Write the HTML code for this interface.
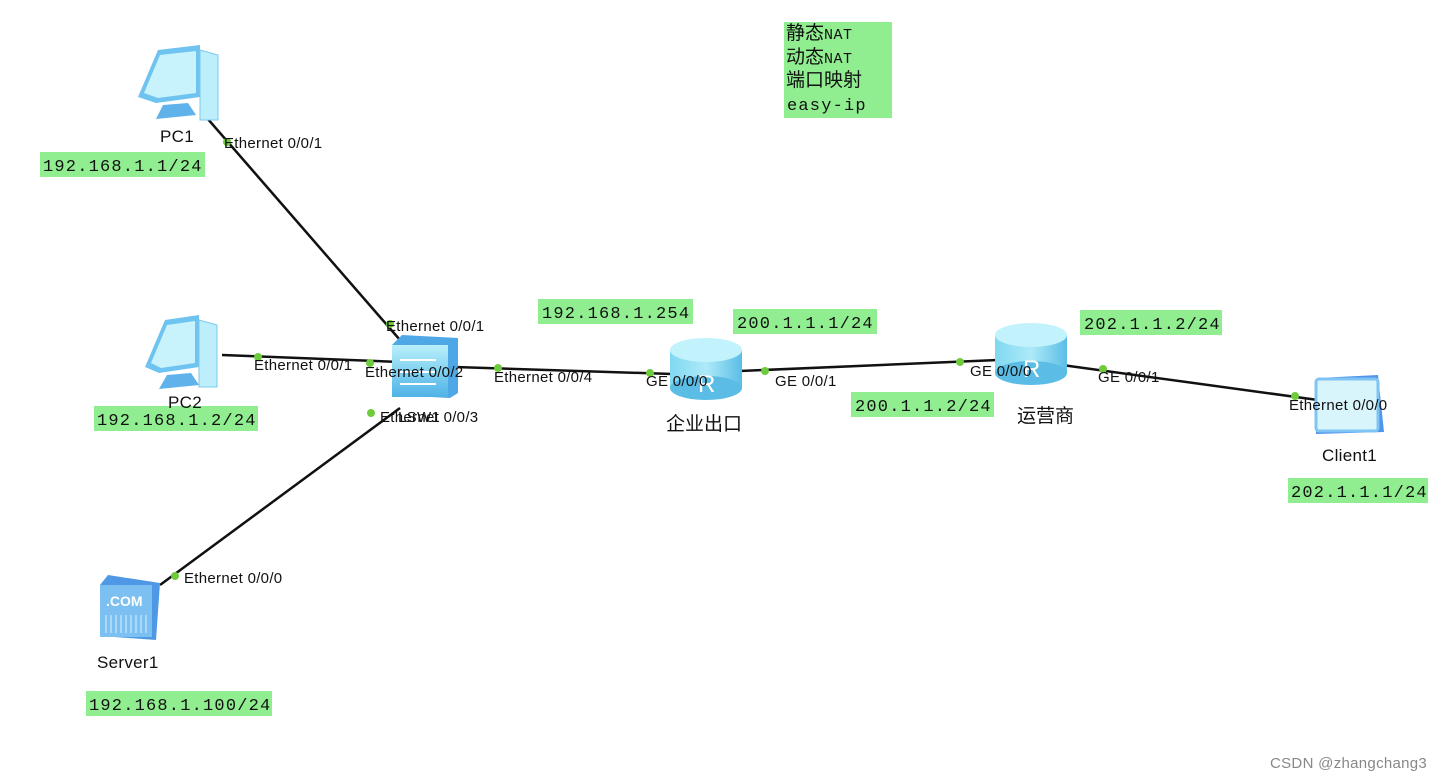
<!DOCTYPE html>
<html><head><meta charset="utf-8"><style>
html,body{margin:0;padding:0;background:#fff;}
svg{display:block}
.e{font-family:"Liberation Sans",sans-serif;font-size:15px;letter-spacing:0.3px;fill:#111;}
.m{font-family:"Liberation Mono","DejaVu Sans Mono",monospace;font-size:17px;letter-spacing:1.2px;fill:#111;}
.c{font-family:"Liberation Sans","Noto Sans CJK SC",sans-serif;font-size:19px;fill:#111;}
</style></head><body>
<svg width="1444" height="781" viewBox="0 0 1444 781" xmlns="http://www.w3.org/2000/svg">
<defs>
<linearGradient id="bl" x1="0" y1="0" x2="0" y2="1"><stop offset="0" stop-color="#b8f0fb"/><stop offset="1" stop-color="#4fb3e6"/></linearGradient>
<linearGradient id="rt" x1="0" y1="0" x2="1" y2="0"><stop offset="0" stop-color="#7fd8f2"/><stop offset="0.5" stop-color="#aeeaf8"/><stop offset="1" stop-color="#5bbde6"/></linearGradient>
</defs>
<g stroke="#111" stroke-width="2.5" fill="none">
<line x1="207" y1="118" x2="400" y2="340"/>
<line x1="222" y1="355" x2="400" y2="362"/>
<line x1="455" y1="367" x2="672" y2="374"/>
<line x1="740" y1="371" x2="998" y2="360"/>
<line x1="1062" y1="365" x2="1318" y2="400"/>
<line x1="160" y1="585" x2="400" y2="408"/>
</g>
<g fill="#90ee90">
<rect x="784" y="22" width="108" height="96"/>
<rect x="40" y="152" width="165" height="25"/>
<rect x="94" y="406" width="164" height="25"/>
<rect x="86" y="691" width="186" height="25"/>
<rect x="538" y="299" width="155" height="25"/>
<rect x="733" y="309" width="144" height="25"/>
<rect x="851" y="392" width="143" height="25"/>
<rect x="1080" y="310" width="142" height="25"/>
<rect x="1288" y="478" width="140" height="25"/>
</g>
<g transform="translate(138,45)">
<polygon points="20,5 62,0 62,52 18,58 0,52" fill="#6fc3f0"/>
<polygon points="22,10 58,6 58,48 20,53 6,48" fill="#c8f3fc"/>
<polygon points="62,5 80,10 80,75 62,75" fill="#bdeefb" stroke="#7cc8ec"/>
<polygon points="25,60 50,58 58,70 18,74" fill="#5fb2ea"/>
</g>
<g transform="translate(145,315)">
<polygon points="20,5 54,0 54,52 14,58 0,52" fill="#6fc3f0"/>
<polygon points="22,10 50,6 50,48 16,53 6,48" fill="#c8f3fc"/>
<polygon points="54,5 72,10 72,72 54,72" fill="#bdeefb" stroke="#7cc8ec"/>
<polygon points="22,60 46,58 54,70 14,74" fill="#5fb2ea"/>
</g>
<g>
<polygon points="392,345 402,335 458,338 458,393 450,398 392,395" fill="#4fa8e6"/>
<rect x="392" y="345" width="56" height="52" fill="url(#bl)"/>
<path d="M400 360 h36 M400 372 h36 M400 384 h36" stroke="#fff" stroke-width="2"/>
</g>
<g>
<rect x="670" y="350" width="72" height="38" fill="url(#rt)"/>
<ellipse cx="706" cy="388" rx="36" ry="12" fill="#5bbde6"/>
<ellipse cx="706" cy="350" rx="36" ry="12" fill="#c2f2fb"/>
<text x="698" y="392" font-family="Liberation Sans" font-size="24" fill="#fff">R</text>
</g>
<g>
<rect x="995" y="335" width="72" height="38" fill="url(#rt)"/>
<ellipse cx="1031" cy="373" rx="36" ry="12" fill="#5bbde6"/>
<ellipse cx="1031" cy="335" rx="36" ry="12" fill="#c2f2fb"/>
<text x="1023" y="377" font-family="Liberation Sans" font-size="24" fill="#fff">R</text>
</g>
<polygon points="1318,378 1378,375 1384,432 1316,434" fill="#4f95ea"/>
<rect x="1316" y="379" width="62" height="52" rx="3" fill="#d8f5fc" stroke="#7fc4f3" stroke-width="3"/>
<polygon points="100,585 108,575 160,583 156,640 100,636" fill="#4f98e6"/>
<rect x="100" y="585" width="52" height="52" fill="#7cc0f2"/>
<text x="106" y="606" font-family="Liberation Sans" font-size="14" font-weight="bold" fill="#fff">.COM</text>
<path d="M106 615v18M111 615v18M116 615v18M121 615v18M126 615v18M131 615v18M136 615v18M141 615v18M146 615v18" stroke="#d8f0ff" stroke-width="1"/>
<g fill="#6ecb3c">
<circle cx="227" cy="142" r="4"/><circle cx="390" cy="324" r="4"/>
<circle cx="258" cy="357" r="4"/><circle cx="370" cy="363" r="4"/>
<circle cx="371" cy="413" r="4"/><circle cx="498" cy="368" r="4"/>
<circle cx="650" cy="373" r="4"/><circle cx="765" cy="371" r="4"/>
<circle cx="960" cy="362" r="4"/><circle cx="1103" cy="369" r="4"/>
<circle cx="1295" cy="396" r="4"/><circle cx="175" cy="576" r="4"/>
</g>
<text class="c" x="786" y="39">静态<tspan class="m" style="font-size:15px;letter-spacing:0.5px">NAT</tspan></text>
<text class="c" x="786" y="63">动态<tspan class="m" style="font-size:15px;letter-spacing:0.5px">NAT</tspan></text>
<text class="c" x="786" y="86">端口映射</text>
<text class="m" x="787" y="110">easy-ip</text>
<text class="m" x="43" y="171">192.168.1.1/24</text>
<text class="m" x="97" y="425">192.168.1.2/24</text>
<text class="m" x="89" y="710">192.168.1.100/24</text>
<text class="m" x="542" y="318">192.168.1.254</text>
<text class="m" x="737" y="328">200.1.1.1/24</text>
<text class="m" x="855" y="411">200.1.1.2/24</text>
<text class="m" x="1084" y="329">202.1.1.2/24</text>
<text class="m" x="1291" y="497">202.1.1.1/24</text>
<text class="e" x="160" y="142" style="font-size:17px">PC1</text>
<text class="e" x="168" y="408" style="font-size:17px">PC2</text>
<text class="e" x="97" y="668" style="font-size:17px">Server1</text>
<text class="e" x="1322" y="461" style="font-size:17px">Client1</text>
<text class="c" x="666" y="430">企业出口</text>
<text class="c" x="1017" y="422">运营商</text>
<text class="e" x="398" y="422">LSW1</text>
<text class="e" x="224" y="148">Ethernet 0/0/1</text>
<text class="e" x="386" y="331">Ethernet 0/0/1</text>
<text class="e" x="254" y="370">Ethernet 0/0/1</text>
<text class="e" x="365" y="377">Ethernet 0/0/2</text>
<text class="e" x="380" y="422">Ethernet 0/0/3</text>
<text class="e" x="494" y="382">Ethernet 0/0/4</text>
<text class="e" x="646" y="386">GE 0/0/0</text>
<text class="e" x="775" y="386">GE 0/0/1</text>
<text class="e" x="970" y="376">GE 0/0/0</text>
<text class="e" x="1098" y="382">GE 0/0/1</text>
<text class="e" x="1289" y="410">Ethernet 0/0/0</text>
<text class="e" x="184" y="583">Ethernet 0/0/0</text>
<text class="e" x="1270" y="768" style="fill:#888">CSDN @zhangchang3</text>
</svg>
</body></html>
